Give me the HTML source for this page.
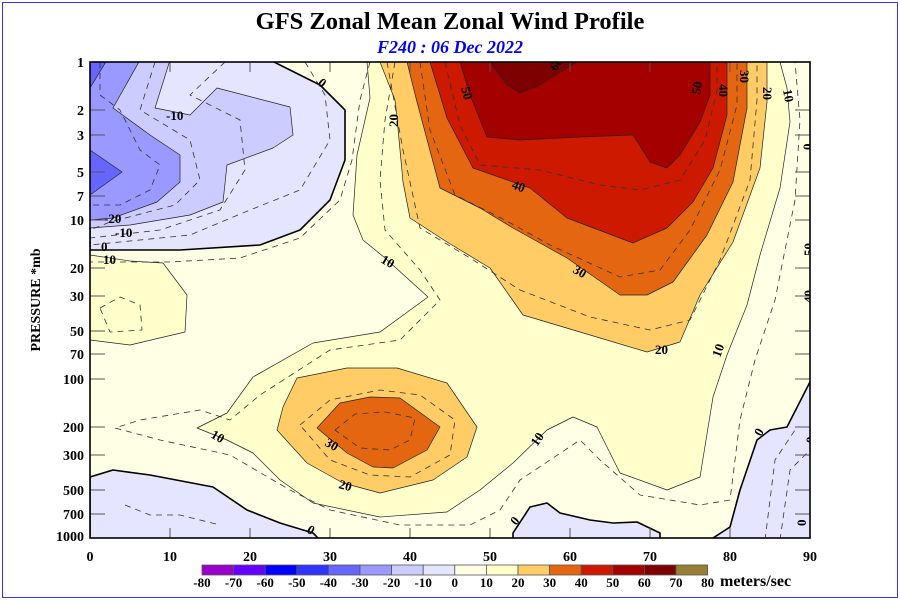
<!DOCTYPE html>
<html><head><meta charset="utf-8"><style>
body{margin:0;background:#fff}
svg{display:block}
text{font-family:"Liberation Serif",serif;font-weight:bold}
</style></head><body>
<svg width="900" height="600" viewBox="0 0 900 600" xmlns="http://www.w3.org/2000/svg">
<rect x="2.5" y="2.5" width="895" height="595" fill="#fff" stroke="#3333ff" stroke-width="1"/>
<text x="450" y="29" font-size="24.5" text-anchor="middle">GFS Zonal Mean Zonal Wind Profile</text>
<text x="450" y="53" font-size="18" text-anchor="middle" fill="#0000ff" font-style="italic">F240 : 06 Dec 2022</text>

<defs><clipPath id="c"><rect x="90" y="62" width="720" height="476"/></clipPath></defs>
<g clip-path="url(#c)" stroke="#222" stroke-width="0.7" stroke-linejoin="round">
<rect x="90" y="62" width="720" height="476" fill="#ffffe5" stroke="none"/>
<path fill="#ffffcc" d="M367,62 L370,98 357,155 353,215 363,240 385,258 428,297 380,332 313,343 253,377 227,413 197,428 227,440 253,453 280,480 313,503 380,517 447,512 480,490 513,463 547,430 573,417 597,427 620,473 667,490 700,477 713,397 727,355 747,305 760,255 780,188 790,122 787,88 780,62 Z"/>
<path fill="#ffffcc" d="M90,255 L130,261 163,263 187,295 185,332 130,345 90,340 Z"/>
<path fill="#ffcc66" d="M380,62 L395,100 397,118 403,182 410,218 447,242 490,268 523,315 580,332 647,352 680,342 700,295 733,242 760,168 767,102 767,62 Z"/>
<path fill="#e56610" d="M407,62 L417,102 440,188 480,208 513,228 567,258 620,295 647,295 673,282 707,235 733,182 747,108 747,62 Z"/>
<path fill="#cc1900" d="M430,62 L447,118 473,168 530,188 567,218 633,243 667,228 693,202 713,168 727,115 727,62 Z"/>
<path fill="#a50000" d="M460,62 L470,95 487,137 520,140 580,137 633,135 650,162 667,168 680,155 700,122 710,95 710,62 Z"/>
<path fill="#7f0000" d="M490,62 L507,85 520,93 540,85 567,68 577,62 Z"/>
<path fill="#ffcc66" d="M297,378 L347,368 397,368 447,383 477,427 467,457 433,480 380,493 343,483 307,463 277,430 283,407 Z"/>
<path fill="#e56610" d="M317,428 L340,403 370,397 400,398 440,427 427,450 393,468 373,467 347,453 Z"/>
<path fill="#e5e5ff" stroke="#000" stroke-width="1.6" d="M90,250 L180,250 260,245 300,230 330,200 345,160 345,110 320,85 290,70 270,60 L90,60 Z"/>
<path fill="#ccccff" d="M170,60 L155,108 190,115 217,88 290,107 293,135 273,148 227,165 223,202 190,215 130,225 90,228 L90,60 Z"/>
<path fill="#9999ff" d="M140,60 L113,108 150,135 180,155 180,182 157,202 113,218 90,220 L90,60 Z"/>
<path fill="#6666ff" d="M107,60 L90,88 90,60 Z"/>
<path fill="#6666ff" d="M90,150 L122,172 90,195 Z"/>
<path fill="#e5e5ff" stroke="#000" stroke-width="1.6" d="M90,477 L113,470 150,475 213,487 247,510 280,523 313,533 322,542 L90,542 Z"/>
<path fill="#e5e5ff" stroke="#000" stroke-width="1.6" d="M513,542 L513,533 530,507 547,503 560,513 590,520 613,523 637,522 660,533 660,542 Z"/>
<path fill="#e5e5ff" stroke="#000" stroke-width="1.6" d="M708,542 L710,540 730,527 740,490 757,440 770,430 787,427 812,378 L812,542 Z"/>
<g fill="none" stroke="#333" stroke-width="0.8" stroke-dasharray="6,5">
<path d="M370,62 L360,100 352,160 340,200 300,238 240,258 170,262 90,262"/>
<path d="M395,62 L385,120 380,180 385,230 420,270 440,300 400,340 330,350 260,395 230,420 200,410 140,420 115,428 160,440 230,455 290,490 330,510 400,525 470,525 500,510 520,480 550,460 580,440 600,460 640,495 700,505 730,500 740,420 755,360 775,300 795,200 800,120 795,62"/>
<path d="M387,62 L403,150 420,228 470,258 520,290 590,317 650,330 690,320 720,260 750,180 757,100 757,62"/>
<path d="M420,62 L430,130 455,195 505,220 550,245 620,277 660,270 690,230 720,170 737,105 737,62"/>
<path d="M445,62 L460,125 480,165 540,170 600,185 640,190 680,180 705,140 717,90 717,62"/>
<path d="M300,425 L330,400 380,390 420,395 455,420 450,455 410,477 370,475 330,460 Z"/>
<path d="M335,430 L355,414 385,412 415,418 410,440 390,450 360,448 Z"/>
<path d="M100,308 L120,297 140,305 142,330 110,332 Z"/>
<path d="M125,505 L150,515 180,515 220,525"/>
<path d="M100,62 L100,95 120,110 140,150 160,165 150,190 120,205 90,205"/>
<path d="M155,62 L140,110 190,140 200,180 175,205 110,222 90,230"/>
<path d="M225,62 L190,95 240,120 245,170 220,210 160,230 90,238"/>
<path d="M305,62 L325,95 330,140 300,190 250,210 190,235 90,245"/>
<path d="M780,540 L790,470 800,460 810,450"/>
<path d="M765,540 L770,500 775,460 795,430"/>
</g>
<g font-size="13" stroke="none" fill="#000">
<text x="317" y="84" transform="rotate(40 317 84)">0</text>
<text x="166" y="120">-10</text>
<text x="104" y="223">-20</text>
<text x="115" y="237">-10</text>
<text x="101" y="251">0</text>
<text x="103" y="264">10</text>
<text x="398" y="127" transform="rotate(-90 398 127)">20</text>
<text x="380" y="262" transform="rotate(30 380 262)">10</text>
<text x="461" y="88" transform="rotate(75 461 88)">50</text>
<text x="556" y="72" transform="rotate(-55 556 72)">60</text>
<text x="505" y="60">-30</text>
<text x="511" y="188" transform="rotate(20 511 188)">40</text>
<text x="572" y="272" transform="rotate(30 572 272)">30</text>
<text x="655" y="354">20</text>
<text x="700" y="95" transform="rotate(-80 700 95)">50</text>
<text x="719" y="84" transform="rotate(90 719 84)">40</text>
<text x="740" y="70" transform="rotate(90 740 70)">30</text>
<text x="763" y="87" transform="rotate(90 763 87)">20</text>
<text x="783" y="90" transform="rotate(80 783 90)">10</text>
<text x="720" y="358" transform="rotate(-70 720 358)">10</text>
<text x="210" y="437" transform="rotate(30 210 437)">10</text>
<text x="324" y="445" transform="rotate(30 324 445)">30</text>
<text x="338" y="488" transform="rotate(15 338 488)">20</text>
<text x="537" y="447" transform="rotate(-55 537 447)">10</text>
<text x="306" y="532" transform="rotate(30 306 532)">0</text>
<text x="516" y="526" transform="rotate(-50 516 526)">0</text>
<text x="761" y="437" transform="rotate(-60 761 437)">0</text>
<text x="812" y="150" transform="rotate(-90 812 150)">0</text>
<text x="813" y="256" transform="rotate(-90 813 256)">50</text>
<text x="813" y="303" transform="rotate(-90 813 303)">40</text>
<text x="815" y="443" transform="rotate(-90 815 443)">0</text>
<text x="806" y="526" transform="rotate(-90 806 526)">0</text>
</g>
</g>
<g stroke="#555" stroke-width="1">
<path d="M90,110h15M90,135h15M90,172h15M90,196h15M90,220h15M90,268h15M90,296h15M90,331h15M90,354h15M90,379h15M90,427h15M90,455h15M90,490h15M90,514h15
M810,110h-15M810,135h-15M810,172h-15M810,196h-15M810,220h-15M810,268h-15M810,296h-15M810,331h-15M810,354h-15M810,379h-15M810,427h-15M810,455h-15M810,490h-15M810,514h-15
M170,538v-10M250,538v-10M330,538v-10M410,538v-10M490,538v-10M570,538v-10M650,538v-10M730,538v-10
M170,62v10M250,62v10M330,62v10M410,62v10M490,62v10M570,62v10M650,62v10M730,62v10"/>
</g>
<rect x="90" y="62" width="720" height="476" fill="none" stroke="#000" stroke-width="1.6"/>
<g font-size="14" text-anchor="end">
<text x="84" y="67">1</text><text x="84" y="115">2</text><text x="84" y="140">3</text><text x="84" y="177">5</text><text x="84" y="201">7</text><text x="84" y="225">10</text><text x="84" y="273">20</text><text x="84" y="301">30</text><text x="84" y="336">50</text><text x="84" y="359">70</text><text x="84" y="384">100</text><text x="84" y="432">200</text><text x="84" y="460">300</text><text x="84" y="495">500</text><text x="84" y="519">700</text><text x="84" y="541">1000</text>
</g>
<g font-size="14" text-anchor="middle">
<text x="90" y="561">0</text><text x="170" y="561">10</text><text x="250" y="561">20</text><text x="330" y="561">30</text><text x="410" y="561">40</text><text x="490" y="561">50</text><text x="570" y="561">60</text><text x="650" y="561">70</text><text x="730" y="561">80</text><text x="810" y="561">90</text>
</g>
<text x="40" y="300" font-size="14" text-anchor="middle" transform="rotate(-90 40 300)">PRESSURE *mb</text>
<g stroke="#555" stroke-width="0.8">
<rect x="202" y="565" width="31.6" height="10" fill="#9900cc"/>
<rect x="233.6" y="565" width="31.6" height="10" fill="#6600ff"/>
<rect x="265.2" y="565" width="31.6" height="10" fill="#0000ff"/>
<rect x="296.8" y="565" width="31.6" height="10" fill="#3333ff"/>
<rect x="328.4" y="565" width="31.6" height="10" fill="#6666ff"/>
<rect x="360" y="565" width="31.6" height="10" fill="#9999ff"/>
<rect x="391.6" y="565" width="31.6" height="10" fill="#ccccff"/>
<rect x="423.2" y="565" width="31.6" height="10" fill="#e5e5ff"/>
<rect x="454.8" y="565" width="31.6" height="10" fill="#ffffe5"/>
<rect x="486.4" y="565" width="31.6" height="10" fill="#ffffcc"/>
<rect x="518" y="565" width="31.6" height="10" fill="#ffcc66"/>
<rect x="549.6" y="565" width="31.6" height="10" fill="#e56610"/>
<rect x="581.2" y="565" width="31.6" height="10" fill="#cc1900"/>
<rect x="612.8" y="565" width="31.6" height="10" fill="#a50000"/>
<rect x="644.4" y="565" width="31.6" height="10" fill="#7f0000"/>
<rect x="676" y="565" width="31.6" height="10" fill="#997f33"/>
</g>
<g font-size="13" text-anchor="middle">
<text x="202" y="587">-80</text><text x="233.6" y="587">-70</text><text x="265.2" y="587">-60</text><text x="296.8" y="587">-50</text><text x="328.4" y="587">-40</text><text x="360" y="587">-30</text><text x="391.6" y="587">-20</text><text x="423.2" y="587">-10</text><text x="454.8" y="587">0</text><text x="486.4" y="587">10</text><text x="518" y="587">20</text><text x="549.6" y="587">30</text><text x="581.2" y="587">40</text><text x="612.8" y="587">50</text><text x="644.4" y="587">60</text><text x="676" y="587">70</text><text x="707.6" y="587">80</text>
</g>
<text x="720" y="586" font-size="16">meters/sec</text>
</svg>
</body></html>
